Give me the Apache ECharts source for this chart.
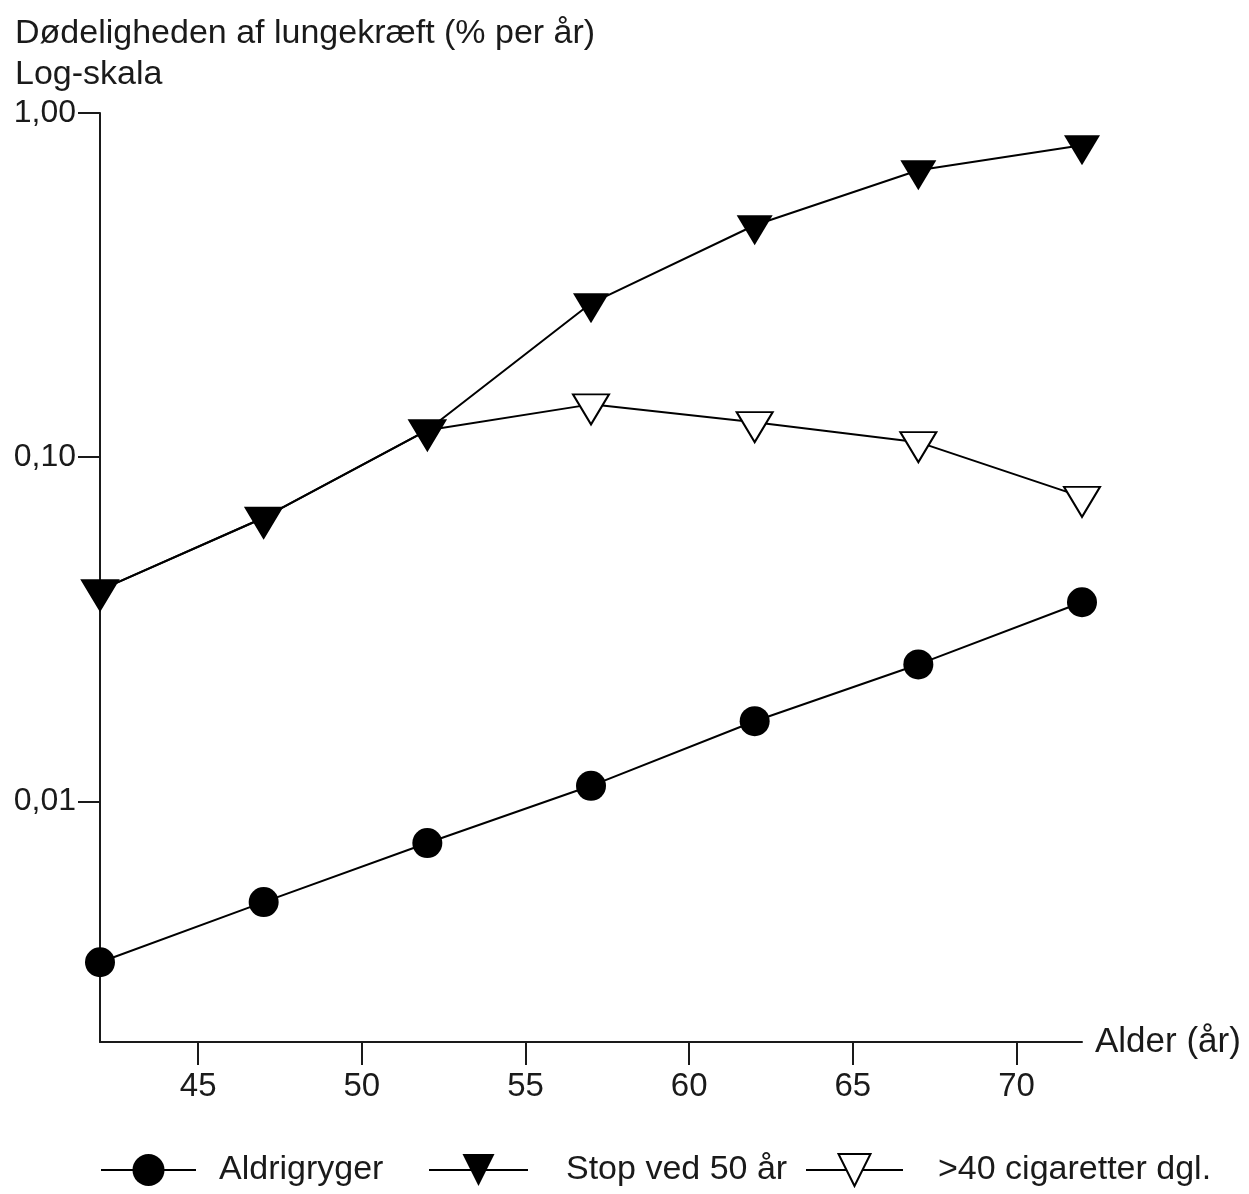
<!DOCTYPE html>
<html>
<head>
<meta charset="utf-8">
<script src="https://cdn.jsdelivr.net/npm/echarts@6/dist/echarts.min.js"></script>
<style>
  html, body { margin: 0; padding: 0; background: #ffffff; }
  #chart { width: 1249px; height: 1194px; }
</style>
</head>
<body>
<div id="chart"></div>
<script>
// Lung cancer mortality (% per year) by age, log scale
const ages = [42, 47, 52, 57, 62, 67, 72];
const aldrigryger = [0.00341, 0.0051, 0.00757, 0.0111, 0.0171, 0.025, 0.0379];
const stopVed50 = [0.0411, 0.0667, 0.1198, 0.280, 0.472, 0.682, 0.806];
const over40Cig = [0.0411, 0.0667, 0.1198, 0.1424, 0.1264, 0.1106, 0.0767];

const xTicks = [45, 50, 55, 60, 65, 70];
const yTicks = [0.01, 0.1, 1];
const names = ['Aldrigryger', 'Stop ved 50 år', '>40 cigaretter dgl.'];

const FONT = 'Liberation Sans';
const INK = '#1a1a1a';

const pairs = vals => ages.map((a, i) => [a, vals[i]]);

const chart = echarts.init(document.getElementById('chart'), null, { renderer: 'canvas' });

const legendBase = {
  orient: 'horizontal',
  top: 1153,
  padding: 0,
  itemHeight: 40,
  selectedMode: false,
  textStyle: { fontFamily: FONT, fontSize: 34, color: INK }
};

chart.setOption({
  animation: false,
  backgroundColor: '#ffffff',
  title: {
    text: 'Dødeligheden af lungekræft (% per år)\nLog-skala',
    left: 15,
    top: 13,
    padding: 0,
    textStyle: { fontFamily: FONT, fontSize: 34, fontWeight: 'normal', color: INK, lineHeight: 41 }
  },
  legend: [
    Object.assign({}, legendBase, {
      data: [names[0]], left: 100, itemWidth: 95,
      textStyle: Object.assign({}, legendBase.textStyle, { padding: [4, 0, 0, 18] })
    }),
    Object.assign({}, legendBase, {
      data: [names[1]], left: 428, itemWidth: 99,
      textStyle: Object.assign({}, legendBase.textStyle, { padding: [4, 0, 0, 33] })
    }),
    Object.assign({}, legendBase, {
      data: [names[2]], left: 805, itemWidth: 97,
      textStyle: Object.assign({}, legendBase.textStyle, { padding: [4, 0, 0, 30] })
    })
  ],
  grid: {
    left: 100, right: 167, top: 113, bottom: 152,
    containLabel: false,
    outerBoundsMode: 'none'
  },
  xAxis: {
    type: 'value',
    min: 42,
    max: 72,
    name: 'Alder (år)',
    nameLocation: 'end',
    nameGap: 13,
    nameTextStyle: { fontFamily: FONT, fontSize: 35, color: INK, verticalAlign: 'middle' },
    axisLine: { show: true, onZero: false, lineStyle: { color: INK, width: 2 } },
    axisTick: { show: true, length: 23, lineStyle: { color: INK, width: 2 }, customValues: xTicks },
    axisLabel: { fontFamily: FONT, fontSize: 33, color: INK, margin: 28, customValues: xTicks },
    splitLine: { show: false }
  },
  yAxis: {
    type: 'log',
    logBase: 10,
    min: 0.002,
    max: 1,
    axisLine: { show: true, lineStyle: { color: INK, width: 2 } },
    axisTick: { show: true, length: 22, lineStyle: { color: INK, width: 2 }, customValues: yTicks },
    axisLabel: {
      fontFamily: FONT, fontSize: 32, color: INK, margin: 24,
      customValues: yTicks,
      formatter: v => Number(v).toFixed(2).replace('.', ',')
    },
    splitLine: { show: false }
  },
  series: [
    {
      name: names[0],
      type: 'line',
      data: pairs(aldrigryger),
      symbol: 'circle',
      symbolSize: 30,
      z: 2,
      lineStyle: { color: '#000', width: 2 },
      itemStyle: { color: '#000', borderWidth: 0 },
      emphasis: { disabled: true }
    },
    {
      name: names[2],
      type: 'line',
      data: pairs(over40Cig),
      symbol: 'triangle',
      symbolSize: [36, 30],
      symbolRotate: 180,
      symbolOffset: [0, 5],
      z: 2,
      lineStyle: { color: '#000', width: 2 },
      itemStyle: { color: '#ffffff', borderColor: '#000', borderWidth: 2 },
      emphasis: { disabled: true }
    },
    {
      name: names[1],
      type: 'line',
      data: pairs(stopVed50),
      symbol: 'triangle',
      symbolSize: [36, 30],
      symbolRotate: 180,
      symbolOffset: [0, 5],
      z: 3,
      lineStyle: { color: '#000', width: 2 },
      itemStyle: { color: '#000', borderWidth: 0 },
      emphasis: { disabled: true }
    }
  ]
});
</script>
</body>
</html>
